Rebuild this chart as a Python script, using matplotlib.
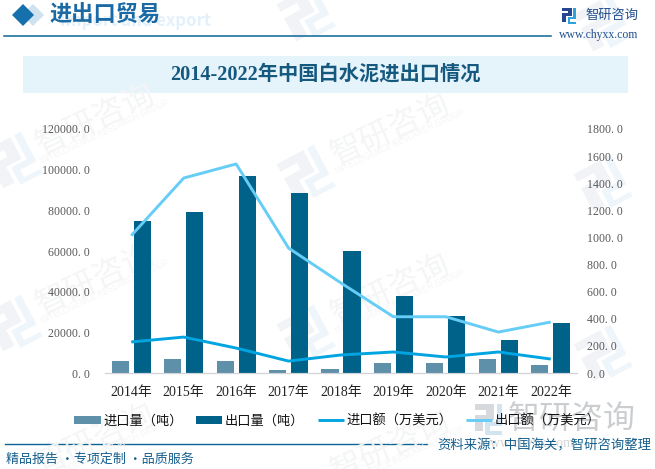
"""
White cement import/export chart, 2014-2022.
"""
import numpy as np
import matplotlib
matplotlib.use('Agg')
import matplotlib.pyplot as plt
from matplotlib.patches import Polygon, Rectangle

plt.rcParams['font.family'] = ['Liberation Serif', 'Noto Sans CJK SC']
plt.rcParams['axes.unicode_minus'] = False

SANS = ['Noto Sans CJK SC', 'DejaVu Sans']

years = ['2014年', '2015年', '2016年', '2017年', '2018年', '2019年', '2020年', '2021年', '2022年']
import_qty = [5900, 6900, 5900, 1500, 2000, 4900, 4900, 6900, 3900]
export_qty = [74750, 79200, 96900, 88500, 60000, 37900, 28000, 16200, 24600]
import_val = [229, 265, 184, 88, 133, 155, 118, 155, 103]
export_val = [1013, 1438, 1542, 922, 664, 415, 415, 302, 376]

left_ticks = [0, 20000, 40000, 60000, 80000, 100000, 120000]
right_ticks = [0, 200, 400, 600, 800, 1000, 1200, 1400, 1600, 1800]

W, H = 655, 469
BLUE_DARK = '#006289'
BLUE_GREY = '#5f90a9'
BLUE_LINE = '#00a4e0'
BLUE_SKY = '#66cdf6'
HEAD = '#16608f'


def rotated(points, cx, cy, size, angle):
    # logo coordinates -> pixel coordinates, y pointing down
    t = np.radians(angle)
    pts = np.array(points, dtype=float) * size
    x = pts[:, 0] * np.cos(t) + pts[:, 1] * np.sin(t) + cx
    y = -pts[:, 0] * np.sin(t) + pts[:, 1] * np.cos(t) + cy
    return np.column_stack([x, y])


def draw_logo(ax, cx, cy, size, angle=0, left='#f1f3f7', right='#eff6fb', **kw):
    # rough version of the company mark: two interlocked brackets
    left_shape = [(-.5, -.5), (.22, -.5), (.22, .08), (-.2, .08), (-.2, .5), (-.5, .5),
                  (-.5, -.12), (-.06, -.12), (-.06, -.3), (-.5, -.3)]
    right_shape = [(.32, -.5), (.5, -.5), (.5, .3), (.06, .3), (.06, .5), (.5, .5), (.5, .62),
                   (-.1, .62), (-.1, .15), (.32, .15)]
    ax.add_patch(Polygon(rotated(left_shape, cx, cy, size, angle), closed=True, fc=left, ec='none', **kw))
    ax.add_patch(Polygon(rotated(right_shape, cx, cy, size, angle), closed=True, fc=right, ec='none', **kw))


def diamond(ax, cx, cy, r, color):
    ax.add_patch(Polygon([(cx - r, cy), (cx, cy - r), (cx + r, cy), (cx, cy + r)], closed=True, fc=color, ec='none'))


fig = plt.figure(figsize=(W / 100, H / 100), dpi=100, facecolor='white')

# page furniture sits in a pixel-coordinate axes behind the chart
bg = fig.add_axes([0, 0, 1, 1], zorder=0)
bg.set_xlim(0, W)
bg.set_ylim(H, 0)
bg.axis('off')

for lx, ly in [(12, 160), (12, 323), (305, 13), (305, 173), (305, 333), (602, 23), (602, 183), (602, 353)]:
    draw_logo(bg, lx, ly, 42, angle=28)
for tx, ty in [(96, 120), (391, 130), (96, 280), (391, 290), (96, 440), (391, 447)]:
    bg.text(tx, ty, '智研咨询', family=SANS, fontsize=23, color='#f4f5f6', rotation=25,
            ha='center', va='center', rotation_mode='anchor')
    bg.text(tx + 9, ty + 12, 'INTELLIGENCE RESEARCH GROUP', family=SANS, fontsize=6.5, color='#f6f6f7',
            rotation=25, ha='center', va='center', rotation_mode='anchor')

# header
bg.text(60, 21, 'Import and export', family=SANS, fontsize=12, weight='bold', color='#e2f1fb', va='center')
diamond(bg, 33, 15, 11, '#cfe2f0')
diamond(bg, 23, 15, 11, '#1670ab')
bg.text(50, 15.5, '进出口贸易', family=SANS, fontsize=16, weight='bold', color='#1b6aa3', va='center')
bg.plot([4, 551], [36, 36], color='#0b6496', lw=1.1)
draw_logo(bg, 569, 15, 14, left='#24478f', right='#2aa3de')
bg.text(585, 15, '智研咨询', family=SANS, fontsize=9.5, color='#23508f', va='center')
bg.text(559, 35, 'www.chyxx.com', fontsize=8.5, color='#23508f', va='center')

# title band
bg.add_patch(Rectangle((23, 56), 605, 37, fc='#e5f3fb', ec='none'))
bg.text(325.5, 75, '2014-2022年中国白水泥进出口情况', fontsize=14.6, weight='bold', color='#16597f',
        ha='center', va='center')

# footer
bg.plot([5, 427], [444, 444], color='#0b6496', lw=1)
bg.text(6, 459, '精品报告 ·专项定制 ·品质服务', family=SANS, fontsize=9.4, color=HEAD, va='center')

# chart
ax = fig.add_axes([105 / W, (H - 373) / H, 472 / W, 244 / H], zorder=1)
ax.patch.set_alpha(0)
x = np.arange(len(years))
bar_w = 0.325
off = 0.21
h1 = ax.bar(x - off, import_qty, bar_w, color=BLUE_GREY, label='进口量（吨）')
h2 = ax.bar(x + off, export_qty, bar_w, color=BLUE_DARK, label='出口量（吨）')
ax.set_xlim(-0.5, len(years) - 0.5)
ax.set_ylim(0, 120000)
ax.set_xticks(x)
ax.set_xticklabels(years, fontsize=10, color='#222222')
ax.set_yticks(left_ticks)
ax.set_yticklabels([f'{v}. 0' for v in left_ticks], fontsize=8.6, color='#595959')
ax.tick_params(axis='both', length=0)
ax.tick_params(axis='x', pad=9)
ax.tick_params(axis='y', pad=11)

ax2 = ax.twinx()
ax2.patch.set_alpha(0)
l1, = ax2.plot(x, import_val, color=BLUE_LINE, lw=2.1, solid_capstyle='butt', label='进口额（万美元）')
l2, = ax2.plot(x, export_val, color=BLUE_SKY, lw=2.1, solid_capstyle='butt', label='出口额（万美元）')
ax2.set_ylim(0, 1800)
ax2.set_yticks(right_ticks)
ax2.set_yticklabels([f'{v}. 0' for v in right_ticks], fontsize=8.6, color='#595959')
ax2.tick_params(axis='y', length=0, pad=7)

for a in (ax, ax2):
    for name, spine in a.spines.items():
        spine.set_visible(name == 'bottom')
        spine.set_color('#d0d3d8')

# big grey watermark over the lower right corner
top = fig.add_axes([0, 0, 1, 1], zorder=3)
top.set_xlim(0, W)
top.set_ylim(H, 0)
top.axis('off')
top.patch.set_alpha(0)
draw_logo(top, 488, 418, 27, left='#c9cdd2', right='#c4dcec', alpha=0.75)
top.text(508, 419, '智研咨询', family=SANS, fontsize=23, color='#bfc2c5', va='center', alpha=0.8)
top.text(481, 443, 'www.chyxx.com', fontsize=10, color='#d4d6d9', va='center')
top.text(437, 445, '资料来源：中国海关，智研咨询整理', family=SANS, fontsize=9.6, color=HEAD, va='center')

fig.legend(handles=[h1, h2, l1, l2], loc='center', bbox_to_anchor=(337.5 / W, (H - 421) / H), ncol=4,
           frameon=False, prop={'family': SANS, 'size': 9.5}, handlelength=2.0, handleheight=0.5,
           handletextpad=0.2, columnspacing=1.0, borderpad=0, borderaxespad=0, labelcolor='#111111')

fig.savefig('out.png', dpi=100)
plt.close(fig)
